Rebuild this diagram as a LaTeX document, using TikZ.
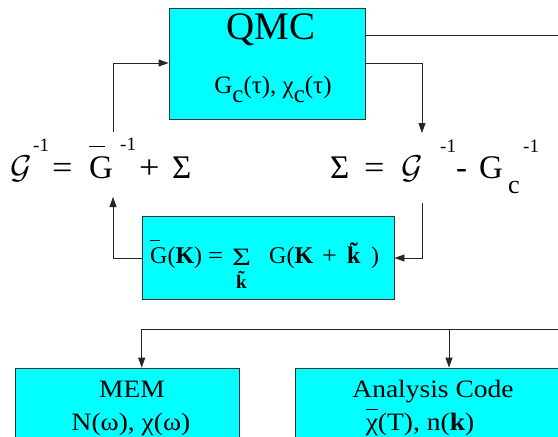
\documentclass[tikz,border=0pt]{standalone}
\usepackage{fontspec}
\newfontfamily\tms{Liberation Serif}
\setmainfont{Liberation Serif}
\usetikzlibrary{arrows.meta}
\definecolor{cy}{RGB}{0,255,255}
\newcommand{\olx}[3]{\makebox[0pt][l]{\rule[#1]{#2}{0.8pt}}#3}
\newcommand{\tk}{\leavevmode\ooalign{\textbf{k}\cr\hidewidth\raisebox{4pt}{\textbf{˜}}\hidewidth\cr}}
\newcommand{\calG}{{\fontsize{10}{12}\selectfont\scalebox{3.3}{$\mathcal{G}$}}}
\newcommand{\wide}[1]{\scalebox{1.1}[1]{#1}}
\begin{document}
\begin{tikzpicture}[x=1pt,y=-1pt,
  box/.style={draw=black!80, line width=0.8pt, fill=cy, inner sep=0pt},
  conn/.style={line width=0.8pt, draw=black!85},
  arr/.style={conn, -{Triangle[length=10pt,width=7pt]}},
  txt/.style={inner sep=0pt, anchor=base},
  txw/.style={inner sep=0pt, anchor=base west},
  big/.style={font=\tms\fontsize{33}{36}\selectfont},
  sup/.style={font=\tms\fontsize{19}{20}\selectfont},
  mid/.style={font=\tms\fontsize{25}{28}\selectfont},
  sml/.style={font=\tms\fontsize{24}{28}\selectfont},
]
\useasboundingbox (0,0) rectangle (558,437);
\clip (0,0) rectangle (558,437);

% boxes
\node[box, minimum width=196pt, minimum height=111pt] (qmc) at (267,63.5) {};
\node[box, minimum width=252pt, minimum height=83pt] (gbar) at (268,257.5) {};
\node[box, minimum width=224pt, minimum height=112pt] (mem) at (127,424) {};
\node[box, minimum width=276pt, minimum height=112pt] (ana) at (433,424) {};

% QMC texts
\node[txt, font=\tms\fontsize{39}{42}\selectfont] (qmct) at (271,39) {QMC};
\node[txt, mid] (qmcs) at (273,93) {G\raisebox{-9pt}{c}(τ), χ\raisebox{-9pt}{c}(τ)};

% left formula
\node[txw, big] (la) at (10,178) {\calG};
\node[txw, sup] (lb) at (33,151) {-1};
\node[txw, big] (lc) at (52,178) {\wide{=}};
\node[txw, big] (ld) at (89,178) {\olx{31pt}{16pt}{G}};
\node[txw, sup] (le) at (120,150) {-1};
\node[txw, big] (lf) at (139,178) {\wide{+}};
\node[txw, big] (lg) at (172,178) {Σ};

% right formula
\node[txw, big] (ra) at (330,178) {Σ};
\node[txw, big] (rb) at (364,178) {\wide{=}};
\node[txw, big] (rc) at (401,178) {\calG};
\node[txw, sup] (rd) at (440,152) {-1};
\node[txw, big] (re) at (456,178) {-};
\node[txw, big] (rf) at (479,178) {G};
\node[txw, font=\tms\fontsize{26}{30}\selectfont] (rg) at (508,193) {c};
\node[txw, sup] (rh) at (523,152) {-1};

% Gbar box formula
\node[txw, sml] (ga) at (150,263) {\olx{22pt}{10pt}{G}(\textbf{K}) \wide{=}};
\node[txt, font=\tms\fontsize{25}{28}\selectfont] (gs) at (241.5,265) {\scalebox{1.3}[1]{Σ}};
\node[txt, font=\tms\fontsize{19}{22}\selectfont] (gsk) at (241.5,288) {\tk};
\node[txw, sml] (gb) at (269,263) {G(\textbf{K}};
\node[txw, sml] (gp) at (322,263) {\wide{+}};
\node[txw, sml] (gk) at (347,263) {\tk};
\node[txw, sml] (gr) at (371,263) {)};

% bottom boxes texts
\node[txt, mid] (memt) at (132,397) {\wide{MEM}};
\node[txt, mid] (mems) at (131,430) {\wide{N(ω), χ(ω)}};
\node[txt, mid] (anat) at (433,397) {\wide{Analysis Code}};
\node[txt, mid] (anas) at (420,430) {\wide{\olx{20pt}{11pt}{χ}(T), n(\textbf{k})}};

% connector coordinates
\coordinate (ltop) at (113,132);
\coordinate (lbot) at (113,197);
\coordinate (rtop) at (422,133);
\coordinate (rbot) at (422,203);
\coordinate (far) at (600,35);
\coordinate (farb) at (600,329);
\coordinate (split) at (449,329);
\coordinate (lft) at (141.7,329);

% connectors
\draw[arr] (ltop) -- (ltop |- 0,63) -- (qmc.west |- 0,63);
\draw[arr] (qmc.east |- 0,63) -- (rtop |- 0,63) -- (rtop);
\draw[arr] (rbot) -- (rbot |- 0,258) -- (gbar.east |- 0,258);
\draw[arr] (gbar.west |- 0,258) -- (lbot |- 0,258) -- (lbot);
\draw[conn] (qmc.east |- 0,35) -- (far) -- (farb) -- (lft);
\draw[arr] (lft) -- (lft |- mem.north);
\draw[arr] (split) -- (split |- ana.north);
\end{tikzpicture}
\end{document}
